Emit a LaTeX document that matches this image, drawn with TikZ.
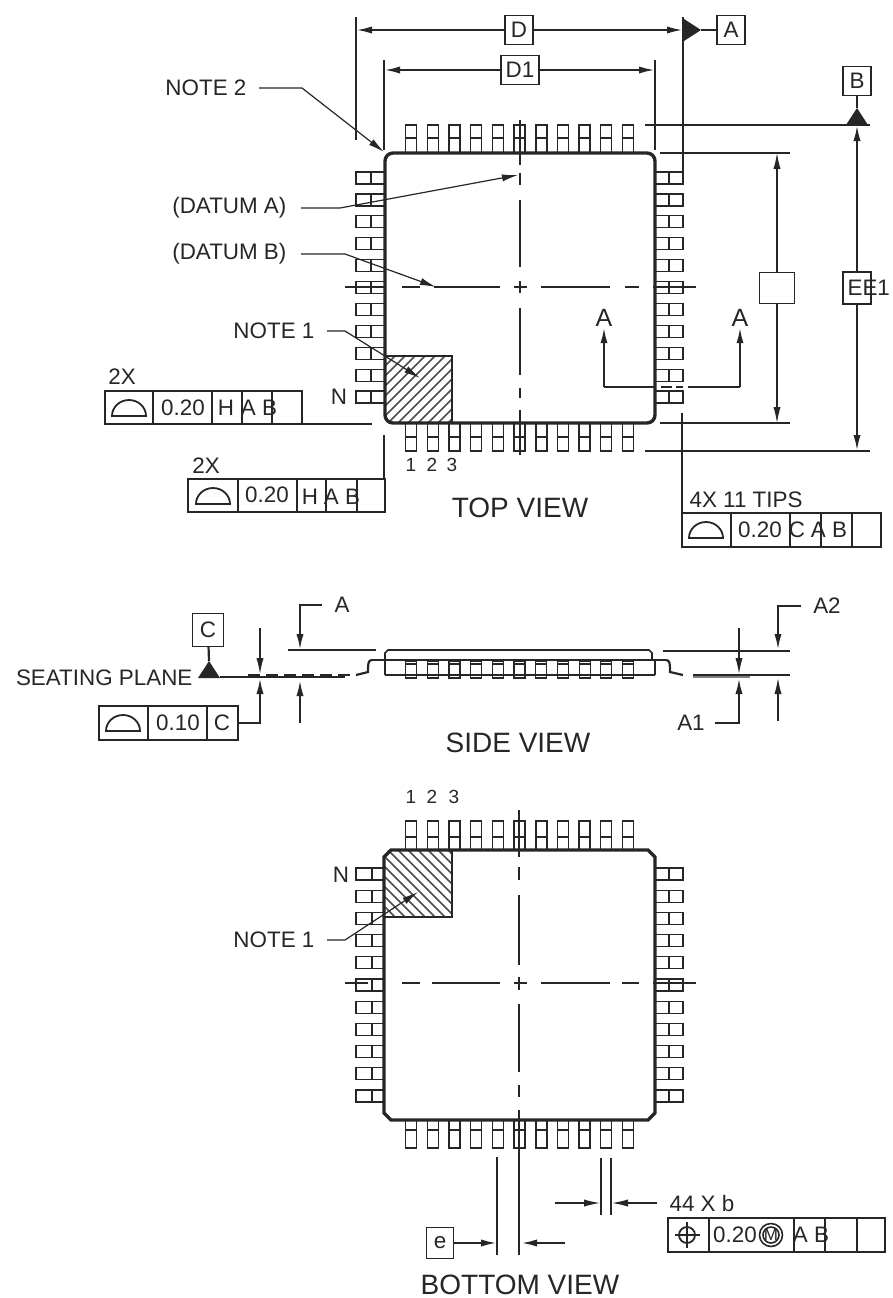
\documentclass[tikz,border=0pt]{standalone}
\usepackage{fontspec}
\setmainfont{Liberation Sans}
\usetikzlibrary{arrows.meta}

\begin{document}
\begin{tikzpicture}[x=0.5pt, y=-0.5pt, line width=0.6pt, black!85,
    lbl/.style={inner sep=0pt, font=\fontsize{11.2}{12}\selectfont},
    small/.style={inner sep=0pt, font=\fontsize{9.5}{11}\selectfont},
    viewname/.style={inner sep=0pt, font=\fontsize{14}{15}\selectfont},
    dimbox/.style={draw, inner sep=0pt, minimum width=14pt, minimum height=14.5pt, font=\fontsize{11.2}{12}\selectfont, fill=white},
    tip/.style={-{Latex[length=8pt,width=3.6pt]}},
    heavy/.style={line width=1.1pt},
    outline/.style={line width=1.7pt},
    centre/.style={line width=0.6pt},
    frame/.style={line width=0.8pt},
    hatch/.style={line width=0.8pt, black!70}]

\useasboundingbox (0,0) rectangle (893,1298);

% Leads of the top view
\foreach \i/\w in {0/0.6,1/0.6,2/0.6,3/0.6,4/0.6,5/0.9,6/0.9,7/0.9,8/0.9,9/0.6,10/0.6} {
  \pgfmathsetmacro\xpos{411+21.7*\i}
  \pgfmathsetmacro\ypos{178+21.9*\i}
  \draw[line width=\w pt] (\xpos-5.5,153) -- (\xpos-5.5,125) -- (\xpos+5.5,125) -- (\xpos+5.5,153);
  \draw (\xpos-5.5,138) -- (\xpos+5.5,138);
  \draw[line width=\w pt] (\xpos-5.5,423) -- (\xpos-5.5,451) -- (\xpos+5.5,451) -- (\xpos+5.5,423);
  \draw (\xpos-5.5,437) -- (\xpos+5.5,437);
  \draw (385,\ypos-6) -- (356,\ypos-6) -- (356,\ypos+6) -- (385,\ypos+6);
  \draw (371,\ypos-6) -- (371,\ypos+6);
  \draw (655,\ypos-6) -- (683,\ypos-6) -- (683,\ypos+6) -- (655,\ypos+6);
  \draw (669,\ypos-6) -- (669,\ypos+6);
}

% Package body, top view
\begin{scope}
  \clip (385,356) rectangle (452,423);
  \foreach \d in {0,10,...,140}
    \draw[hatch] (385+\d-67,423) -- (385+\d,356);
\end{scope}
\draw[frame] (385,356) -- (452,356) -- (452,423);
\draw[outline, rounded corners=4pt] (385,153) rectangle (655,423);

% Centre lines, top view
\foreach \a/\b in {345/385,402/420,434/500,514/527,541/610,625/639,653/696}
  \draw[centre] (\a,287) -- (\b,287);
\foreach \a/\b in {120/165,173/185,200/267,281/293,308/375,388/398,410/455}
  \draw[centre] (520,\a) -- (520,\b);

% Overall dimensions
\node[dimbox] (Dbox) at (519,30) {D};
\node[dimbox, minimum width=19pt] (Dibox) at (520,70) {D1};
\node[dimbox] (Abox) at (731,30) {A};
\node[dimbox] (Bbox) at (857,81) {B};
\node[dimbox, minimum width=17.5pt, minimum height=15.5pt] (Ebox) at (777,288) {};
\node[dimbox, minimum height=16pt] (Eibox) at (857,288) {};
\node[lbl, anchor=west] (Eitext) at (847,288) {EE1};

\coordinate (Dleft) at (356,30);
\coordinate (Dright) at (683,30);
\coordinate (Dileft) at (384,70);
\coordinate (Diright) at (655,70);
\coordinate (Etop) at (777,153);
\coordinate (Ebot) at (777,423);
\coordinate (Eitop) at (857,125);
\coordinate (Eibot) at (857,451);

\draw (356,17) -- (356,140);
\draw[heavy] (384,60) -- (384,150);
\draw (655,60) -- (655,150);
\draw[heavy] (683,17) -- (683,174);
\draw[heavy, tip] (Dbox) -- (Dleft);
\draw[heavy, tip] (Dbox) -- (Dright);
\draw[heavy, tip] (Dibox) -- (Dileft);
\draw[heavy, tip] (Dibox) -- (Diright);
\draw[tip] (Ebox) -- (Etop);
\draw[tip] (Ebox) -- (Ebot);
\draw[heavy, tip] (Eibox) -- (Eitop);
\draw[heavy, tip] (Eibox) -- (Eibot);

\draw[heavy] (660,153) -- (790,153);
\draw[heavy] (660,423) -- (790,423);
\draw (645,125) -- (870,125);
\draw (645,451) -- (870,451);

% Datum flags
\fill (684,19) -- (701,30) -- (684,41) -- cycle;
\draw (Abox) -- (701,30);
\fill (846,125) -- (857,108) -- (868,125) -- cycle;
\draw[heavy] (Bbox) -- (857,108);

% Notes with leaders
\node[lbl, anchor=east] (noteii) at (247,88) {NOTE 2};
\node[lbl, anchor=east] (datuma) at (287,208) {(DATUM A)};
\node[lbl, anchor=east] (datumb) at (287,254) {(DATUM B)};
\node[lbl, anchor=east] (notei) at (315,331) {NOTE 1};
\node[lbl] (nmark) at (339,397) {N};
\coordinate (noteiitip) at (384,152);
\coordinate (datumatip) at (518,175);
\coordinate (datumbtip) at (436,287);
\coordinate (noteitip) at (420,378);
\draw[tip] ([xshift=6pt]noteii.east) -- (302,88) -- (noteiitip);
\draw[tip] ([xshift=7pt]datuma.east) -- (340,208) -- (datumatip);
\draw[tip] ([xshift=7pt]datumb.east) -- (345,254) -- (datumbtip);
\draw[tip] ([xshift=6pt]notei.east) -- (345,331) -- (noteitip);

% Section marks
\node[lbl, font=\fontsize{12.5}{14}\selectfont] (seca) at (604,318) {A};
\node[lbl, font=\fontsize{12.5}{14}\selectfont] (secb) at (740,318) {A};
\coordinate (secamid) at (604,387);
\coordinate (secbmid) at (740,387);
\draw[heavy, tip] (secamid) -- (seca.south);
\draw[heavy, tip] (secbmid) -- (secb.south);
\draw (secamid) -- (655,387);
\draw (secbmid) -- (688,387);
\draw (661,387) -- (672,387);
\draw (676,387) -- (683,387);

% Pin numbers
\foreach \n/\x in {1/411,2/432,3/452}
  \node[small] (top\n) at (\x,465) {\n};
\foreach \n/\x in {1/411,2/432,3/454}
  \node[small] (bot\n) at (\x,797) {\n};

% Profile frames
\draw[frame] (105,391) rectangle (302,424);
\foreach \x in {153,212,242,272}
  \draw[frame] (\x,391) -- (\x,424);
\draw[frame] (302,424) -- (372,424);
\node[lbl] (twoxa) at (122,377) {2X};
\node[lbl] (vala) at (183,408) {0.20};
\node[lbl] (hcella) at (226,408) {H};
\node[lbl] (abcella) at (259,408) {A B};

\draw[frame] (188,479) rectangle (385,512);
\foreach \x in {238,297,326,357}
  \draw[frame] (\x,479) -- (\x,512);
\draw[heavy] (384,435) -- (384,479);
\node[lbl] (twoxb) at (206,466) {2X};
\node[lbl] (valb) at (267,495) {0.20};
\node[lbl] (hcellb) at (310,497) {H};
\node[lbl] (abcellb) at (342,497) {A B};

\draw[frame] (682,513) rectangle (881,547);
\foreach \x in {731,790,821,852}
  \draw[frame] (\x,513) -- (\x,547);
\draw[heavy] (682,413) -- (682,513);
\node[lbl, anchor=west] (tips) at (689,500) {4X 11 TIPS};
\node[lbl] (valc) at (760,530) {0.20};
\node[lbl] (ccell) at (797,530) {C};
\node[lbl] (abcellc) at (829,530) {A B};

% Profile symbols
\foreach \x/\y in {129/416,213/504,706/538,123/731}
  \draw[line width=0.9pt] (\x-17,\y) arc[start angle=180, end angle=360, x radius=17, y radius=16] -- cycle;

% View names
\node[viewname] (topview) at (520,508) {TOP VIEW};
\node[viewname] (sideview) at (518,743) {SIDE VIEW};
\node[viewname] (botview) at (520,1285) {BOTTOM VIEW};

% Side view, leads
\foreach \i in {0,...,10} {
  \pgfmathsetmacro\xpos{411+21.7*\i}
  \draw (\xpos-5.5,661) rectangle (\xpos+5.5,678);
  \draw (\xpos-5.5,664) -- (\xpos+5.5,664);
}

% Side view, body
\draw[frame] (385,660) -- (385,653) -- (388,650) -- (649,650) -- (652,653) -- (652,660);
\draw[heavy] (372,660) -- (666,660);
\draw[heavy] (385,675) -- (655,675);
\draw (385,660) -- (385,675);
\draw (655,660) -- (655,675);
\draw[heavy] (666,660) .. controls (670,660) and (670,664) .. (670,672) -- (683,675);
\draw[heavy] (372,660) .. controls (368,660) and (368,664) .. (368,672) -- (356,675);

% Side view, seating plane
\node[dimbox, minimum width=15.5pt, minimum height=16.5pt] (Cbox) at (208,630) {C};
\node[lbl, anchor=east] (seating) at (193,678) {SEATING PLANE};
\fill (198,678) -- (209,661) -- (220,678) -- cycle;
\draw[heavy] (Cbox) -- (209,661);
\draw (220,677) -- (345,677);
\draw[heavy, dash pattern=on 6pt off 3pt] (248,675) -- (352,675);

\draw[line width=0.9pt] (99,706) rectangle (238,740);
\draw[frame] (148,706) -- (148,740);
\draw[frame] (207,706) -- (207,740);
\node[lbl] (vald) at (178,723) {0.10};
\node[lbl] (dcell) at (222,723) {C};
\coordinate (lowa) at (260,678);
\coordinate (upa) at (260,674);
\coordinate (upastart) at (260,628);
\draw[heavy, tip] (238,723) -- (260,723) -- (lowa);
\draw[tip] (upastart) -- (upa);

% Side view, heights
\node[lbl] (hA) at (342,605) {A};
\node[lbl] (hAii) at (827,606) {A2};
\node[lbl] (hAi) at (691,723) {A1};
\draw[heavy] (288,650) -- (376,650);
\draw[heavy] (663,651) -- (790,651);
\draw[heavy] (693,675) -- (790,675);
\draw[black!50, heavy] (693,677) -- (750,677);
\draw[heavy, tip] (322,605) -- (300,605) -- (300,650);
\draw[heavy, tip] (300,723) -- (300,680);
\draw[heavy, tip] (hAii.west) ++(-12,0) -- (778,606) -- (778,650);
\draw[tip] (778,721) -- (778,678);
\draw[tip] (739,628) -- (739,674);
\draw[heavy, tip] (hAi.east) ++(10,0) -- (739,723) -- (739,678);

% Leads of the bottom view
\foreach \i/\w in {0/0.9,1/0.6,2/0.6,3/0.6,4/0.6,5/0.9,6/0.9,7/0.9,8/0.9,9/0.6,10/0.6} {
  \pgfmathsetmacro\xpos{411+21.7*\i}
  \pgfmathsetmacro\ypos{874+22.2*\i}
  \draw[line width=\w pt] (\xpos-5.5,850) -- (\xpos-5.5,821) -- (\xpos+5.5,821) -- (\xpos+5.5,850);
  \draw (\xpos-5.5,837) -- (\xpos+5.5,837);
  \draw[line width=\w pt] (\xpos-5.5,1120) -- (\xpos-5.5,1148) -- (\xpos+5.5,1148) -- (\xpos+5.5,1120);
  \draw (\xpos-5.5,1130) -- (\xpos+5.5,1130);
  \draw (385,\ypos-6) -- (356,\ypos-6) -- (356,\ypos+6) -- (385,\ypos+6);
  \draw (372,\ypos-6) -- (372,\ypos+6);
  \draw (655,\ypos-6) -- (683,\ypos-6) -- (683,\ypos+6) -- (655,\ypos+6);
  \draw (669,\ypos-6) -- (669,\ypos+6);
}

% Package body, bottom view
\begin{scope}
  \clip (385,850) rectangle (452,917);
  \foreach \d in {0,10,...,140}
    \draw[hatch] (385+\d-67,850) -- (385+\d,917);
\end{scope}
\draw[frame] (452,850) -- (452,917) -- (385,917);
\draw[outline] (391,850) -- (648,850) -- (655,857) -- (655,1113) -- (648,1120) -- (391,1120) -- (384,1113) -- (384,857) -- cycle;

% Centre lines, bottom view
\foreach \a/\b in {345/368,402/420,432/500,514/527,541/610,622/639,653/696}
  \draw[centre] (\a,983) -- (\b,983);
\foreach \a/\b in {810/857,867/880,895/965,977/990,1004/1072,1085/1097,1110/1148}
  \draw[centre] (519,\a) -- (519,\b);

% Notes, bottom view
\node[lbl] (nmarkb) at (341,875) {N};
\node[lbl, anchor=east] (noteib) at (315,940) {NOTE 1};
\coordinate (noteibtip) at (418,892);
\draw[tip] ([xshift=6pt]noteib.east) -- (345,940) -- (noteibtip);

% Pitch and width
\node[dimbox, minimum width=13.5pt, minimum height=15.5pt, line width=0.9pt] (ebox) at (440,1243) {e};
\coordinate (epitchl) at (497,1243);
\coordinate (epitchr) at (521,1243);
\draw (497,1157) -- (497,1255);
\draw (519,1148) -- (519,1255);
\draw[heavy, tip] (ebox) -- (epitchl);
\draw[heavy, tip] (565,1243) -- (epitchr);
\draw[heavy] (601,1158) -- (601,1215);
\draw (611,1158) -- (611,1215);
\coordinate (bleft) at (600,1203);
\coordinate (bright) at (612,1203);
\draw[tip] (555,1203) -- (bleft);
\draw[tip] (657,1203) -- (bright);
\node[lbl, anchor=west] (bcount) at (669,1203) {44 X b};

% Position frame
\draw[frame] (668,1218) rectangle (885,1252);
\foreach \x in {709,794,825,857}
  \draw[frame] (\x,1218) -- (\x,1252);
\draw[line width=0.9pt] (687,1235) circle (8);
\draw[frame] (687,1222) -- (687,1248);
\draw[frame] (675,1235) -- (700,1235);
\node[lbl] (vale) at (735,1235) {0.20};
\node[draw, circle, inner sep=0pt, minimum size=11.5pt, frame, font=\fontsize{8.5}{10}\selectfont] (mmark) at (771,1235) {M};
\draw[frame] (mmark) circle (8);
\node[lbl] (abcelle) at (811,1235) {A B};

\end{tikzpicture}
\end{document}
